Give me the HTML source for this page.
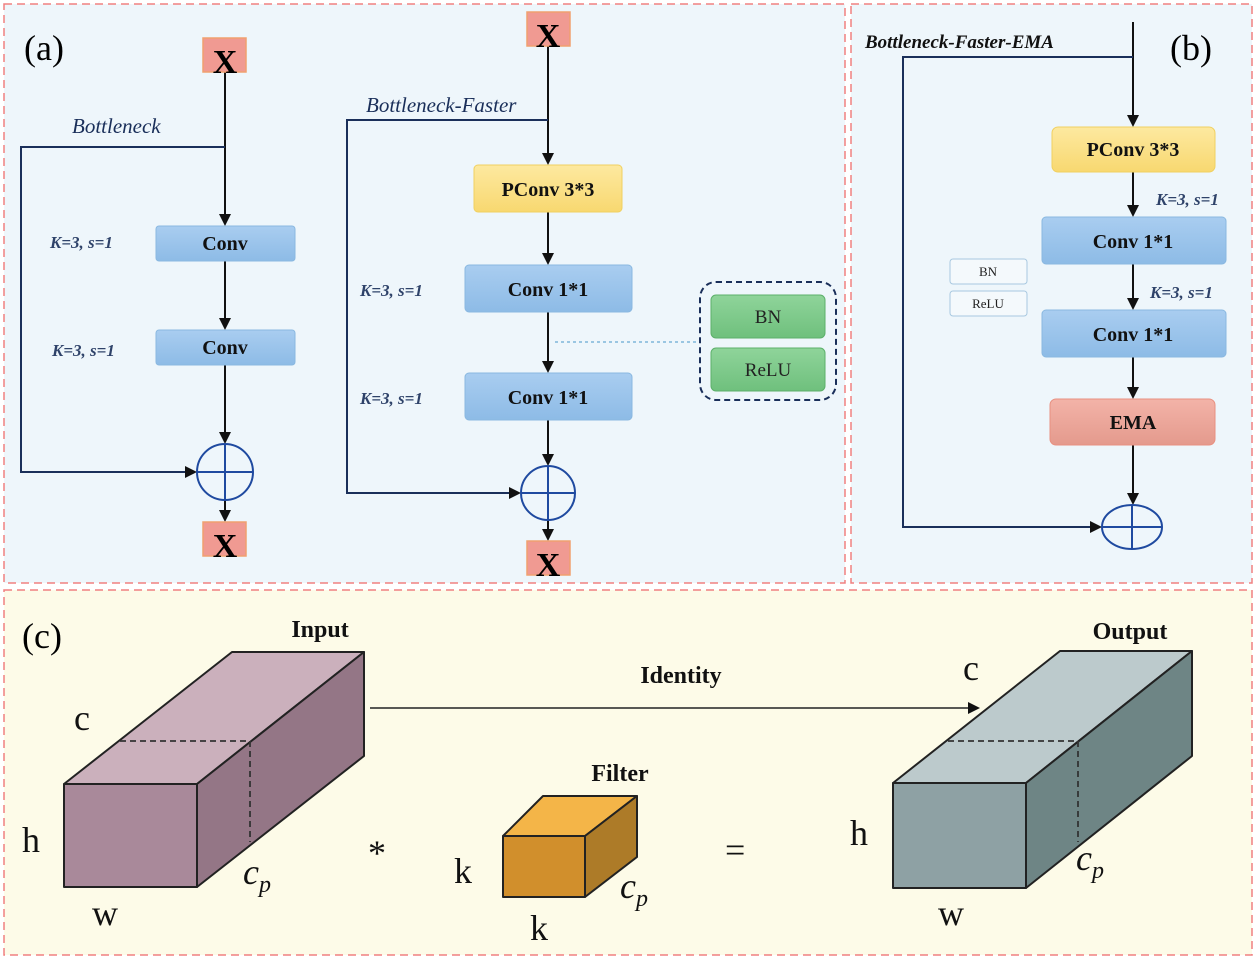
<!DOCTYPE html>
<html><head><meta charset="utf-8"><style>html,body{margin:0;padding:0;background:#fff}svg{display:block}</style></head><body>
<svg width="1256" height="959" viewBox="0 0 1256 959" xmlns="http://www.w3.org/2000/svg" font-family="Liberation Serif, serif">
<defs>
<marker id="ar" markerWidth="12" markerHeight="12" refX="10" refY="6" orient="auto" markerUnits="userSpaceOnUse"><path d="M0,0 L12,6 L0,12 z" fill="#111"/></marker>
<linearGradient id="bl" x1="0" y1="0" x2="0" y2="1"><stop offset="0" stop-color="#a9cdf0"/><stop offset="1" stop-color="#8dbbe6"/></linearGradient>
<linearGradient id="ye" x1="0" y1="0" x2="0" y2="1"><stop offset="0" stop-color="#fde9a0"/><stop offset="1" stop-color="#f8d870"/></linearGradient>
<linearGradient id="gr" x1="0" y1="0" x2="0" y2="1"><stop offset="0" stop-color="#8fd49a"/><stop offset="1" stop-color="#6fc07d"/></linearGradient>
<linearGradient id="rd" x1="0" y1="0" x2="0" y2="1"><stop offset="0" stop-color="#f3b3a8"/><stop offset="1" stop-color="#e49a8d"/></linearGradient>
</defs>
<rect x="4" y="4" width="841" height="579" fill="#eef6fb" stroke="#f08080" stroke-width="1.5" stroke-dasharray="8,5"/>
<rect x="851" y="4" width="401" height="579" fill="#eef6fb" stroke="#f08080" stroke-width="1.5" stroke-dasharray="8,5"/>
<rect x="4" y="590" width="1248" height="365" fill="#fdfbe8" stroke="#f08080" stroke-width="1.5" stroke-dasharray="8,5"/>
<text x="24" y="60" font-size="36">(a)</text>
<text x="1170" y="60" font-size="36">(b)</text>
<text x="22" y="648" font-size="36">(c)</text>
<g stroke="#111" stroke-width="2" fill="none">
<line x1="225" y1="72" x2="225" y2="224" marker-end="url(#ar)"/>
<line x1="225" y1="261" x2="225" y2="328" marker-end="url(#ar)"/>
<line x1="225" y1="365" x2="225" y2="442" marker-end="url(#ar)"/>
<line x1="225" y1="500" x2="225" y2="520" marker-end="url(#ar)"/>
<polyline points="225,147 21,147 21,472 195,472" stroke="#1a2f5a" marker-end="url(#ar)"/>
<line x1="548" y1="46" x2="548" y2="163" marker-end="url(#ar)"/>
<line x1="548" y1="212" x2="548" y2="263" marker-end="url(#ar)"/>
<line x1="548" y1="312" x2="548" y2="371" marker-end="url(#ar)"/>
<line x1="548" y1="420" x2="548" y2="464" marker-end="url(#ar)"/>
<line x1="548" y1="520" x2="548" y2="539" marker-end="url(#ar)"/>
<polyline points="548,120 347,120 347,493 519,493" stroke="#1a2f5a" marker-end="url(#ar)"/>
<line x1="1133" y1="22" x2="1133" y2="125" marker-end="url(#ar)"/>
<line x1="1133" y1="172" x2="1133" y2="215" marker-end="url(#ar)"/>
<line x1="1133" y1="264" x2="1133" y2="308" marker-end="url(#ar)"/>
<line x1="1133" y1="357" x2="1133" y2="397" marker-end="url(#ar)"/>
<line x1="1133" y1="445" x2="1133" y2="503" marker-end="url(#ar)"/>
<polyline points="1133,57 903,57 903,527 1100,527" stroke="#1a2f5a" marker-end="url(#ar)"/>
</g>
<line x1="555" y1="342" x2="700" y2="342" stroke="#7fb6d9" stroke-width="1.5" stroke-dasharray="3,3"/>
<g stroke="#1f4aa0" stroke-width="2" fill="none">
<circle cx="225" cy="472" r="28"/><line x1="197" y1="472" x2="253" y2="472"/><line x1="225" y1="444" x2="225" y2="500"/>
<circle cx="548" cy="493" r="27"/><line x1="521" y1="493" x2="575" y2="493"/><line x1="548" y1="466" x2="548" y2="520"/>
<ellipse cx="1132" cy="527" rx="30" ry="22"/><line x1="1102" y1="527" x2="1162" y2="527"/><line x1="1132" y1="505" x2="1132" y2="549"/>
</g>
<g stroke="#f0a070" stroke-width="1.5" fill="#f09a92">
<rect x="203" y="38" width="43" height="34"/><rect x="203" y="522" width="43" height="34"/>
<rect x="527" y="12" width="43" height="34"/><rect x="527" y="541" width="43" height="34"/>
</g>
<g font-size="34" font-weight="bold" text-anchor="middle"><text x="225" y="73">X</text><text x="225" y="557">X</text><text x="548" y="47">X</text><text x="548" y="576">X</text></g>
<g stroke="#8ab8e0" stroke-width="1">
<rect x="156" y="226" width="139" height="35" rx="3" fill="url(#bl)"/>
<rect x="156" y="330" width="139" height="35" rx="3" fill="url(#bl)"/>
<rect x="465" y="265" width="167" height="47" rx="4" fill="url(#bl)"/>
<rect x="465" y="373" width="167" height="47" rx="4" fill="url(#bl)"/>
<rect x="1042" y="217" width="184" height="47" rx="4" fill="url(#bl)"/>
<rect x="1042" y="310" width="184" height="47" rx="4" fill="url(#bl)"/>
</g>
<rect x="474" y="165" width="148" height="47" rx="4" fill="url(#ye)" stroke="#f0d060"/>
<rect x="1052" y="127" width="163" height="45" rx="6" fill="url(#ye)" stroke="#f0d060"/>
<rect x="1050" y="399" width="165" height="46" rx="6" fill="url(#rd)" stroke="#e89080"/>
<rect x="700" y="282" width="136" height="118" rx="16" fill="none" stroke="#1a2f5a" stroke-width="2" stroke-dasharray="6,4"/>
<rect x="711" y="295" width="114" height="43" rx="5" fill="url(#gr)" stroke="#5cb06a"/>
<rect x="711" y="348" width="114" height="43" rx="5" fill="url(#gr)" stroke="#5cb06a"/>
<rect x="950" y="259" width="77" height="25" rx="3" fill="#f4f9fc" stroke="#a8c8e0"/>
<rect x="950" y="291" width="77" height="25" rx="3" fill="#f4f9fc" stroke="#a8c8e0"/>
<g font-weight="bold" font-size="20" text-anchor="middle" fill="#111">
<text x="225" y="250">Conv</text><text x="225" y="354">Conv</text>
<text x="548" y="196">PConv 3*3</text><text x="548" y="296">Conv 1*1</text><text x="548" y="404">Conv 1*1</text>
<text x="1133" y="156">PConv 3*3</text><text x="1133" y="248">Conv 1*1</text><text x="1133" y="341">Conv 1*1</text><text x="1133" y="429">EMA</text>
</g>
<g font-size="19" text-anchor="middle" fill="#222"><text x="768" y="323">BN</text><text x="768" y="376">ReLU</text></g>
<g font-size="13" text-anchor="middle" fill="#222"><text x="988" y="276">BN</text><text x="988" y="308">ReLU</text></g>
<g font-style="italic" font-size="17" fill="#1a2f5a" font-weight="bold" opacity="0.9">
<text x="50" y="248">K=3, s=1</text><text x="52" y="356">K=3, s=1</text>
<text x="360" y="296">K=3, s=1</text><text x="360" y="404">K=3, s=1</text>
<text x="1156" y="205">K=3, s=1</text><text x="1150" y="298">K=3, s=1</text>
</g>
<g font-style="italic" font-size="21" fill="#1a2f5a">
<text x="72" y="133">Bottleneck</text><text x="366" y="112">Bottleneck-Faster</text>
</g>
<text x="865" y="48" font-style="italic" font-weight="bold" font-size="19" fill="#111">Bottleneck-Faster-EMA</text>
<g stroke="#222" stroke-width="2" stroke-linejoin="round">
<polygon points="64,784 232,652 364,652 197,784" fill="#cbb0bc"/>
<polygon points="197,784 364,652 364,756 197,887" fill="#947686"/>
<rect x="64" y="784" width="133" height="103" fill="#a9899a"/>
<polygon points="893,783 1060,651 1192,651 1026,783" fill="#bccacc"/>
<polygon points="1026,783 1192,651 1192,756 1026,888" fill="#6e8585"/>
<rect x="893" y="783" width="133" height="105" fill="#8ea1a4"/>
<polygon points="503,836 543,796 637,796 585,836" fill="#f4b548"/>
<polygon points="585,836 637,796 637,857 585,897" fill="#ad7b28"/>
<rect x="503" y="836" width="82" height="61" fill="#d18f2c"/>
</g>
<g stroke="#333" stroke-width="1.8" stroke-dasharray="6,4" fill="none">
<polyline points="120,741 250,741 250,842"/>
<polyline points="948,741 1078,741 1078,842"/>
</g>
<line x1="370" y1="708" x2="978" y2="708" stroke="#222" stroke-width="1.5" marker-end="url(#ar)"/>
<g font-weight="bold" font-size="24" fill="#111" text-anchor="middle">
<text x="320" y="637">Input</text><text x="1130" y="639">Output</text><text x="681" y="683">Identity</text><text x="620" y="781">Filter</text>
</g>
<g font-size="36" fill="#111">
<text x="74" y="730">c</text><text x="22" y="852">h</text><text x="92" y="925">w</text>
<text x="368" y="865">*</text><text x="454" y="883">k</text><text x="530" y="940">k</text><text x="725" y="862">=</text>
<text x="963" y="680">c</text><text x="850" y="845">h</text><text x="938" y="925">w</text>
</g>
<g font-size="36" font-style="italic" fill="#111">
<text x="243" y="884">c<tspan font-size="24" dy="8">p</tspan></text>
<text x="620" y="898">c<tspan font-size="24" dy="8">p</tspan></text>
<text x="1076" y="870">c<tspan font-size="24" dy="8">p</tspan></text>
</g>
</svg>
</body></html>
